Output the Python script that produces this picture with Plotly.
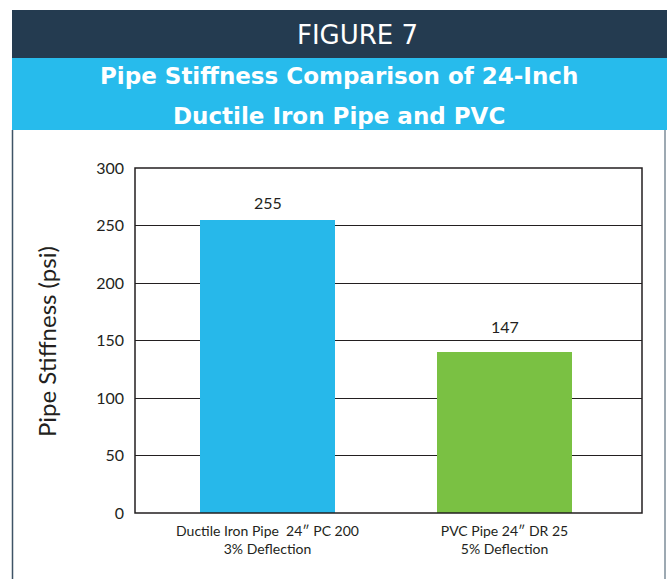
import plotly.graph_objects as go

categories = ["Ductile Iron Pipe  24\u2033 PC 200<br>3% Deflection", "PVC Pipe 24\u2033 DR 25<br>5% Deflection"]
bar_heights = [255, 140]
label_values = [255, 147]
bar_colors = ["#27B8EA", "#7AC143"]
y_ticks = [0, 50, 100, 150, 200, 250, 300]

OFF = 8  # page body margin
W, H = 667 - OFF, 579 - OFF
L, R, T, B = 135 - OFF, 642 - OFF, 168 - OFF, 513 - OFF


def px(x):
    return (x - OFF - L) / (R - L)


def py(y):
    return (B - (y - OFF)) / (B - T)


fig = go.Figure()
fig.add_trace(go.Bar(
    x=[0, 1], y=bar_heights, width=0.57,
    marker=dict(color=bar_colors, line=dict(width=0)),
    hoverinfo="skip",
))

for i, v in enumerate(label_values):
    fig.add_annotation(x=i, y=v, xref="x", yref="y", text=str(v), showarrow=False,
                       xanchor="center", yanchor="bottom", yshift=6,
                       font=dict(family="Lato, Noto Sans, sans-serif", size=16, color="#231F20"))

shapes = [
    dict(type="rect", xref="paper", yref="paper", x0=px(12), x1=px(680), y0=py(10), y1=py(58),
         fillcolor="#243B50", line=dict(width=0), layer="below"),
    dict(type="rect", xref="paper", yref="paper", x0=px(12), x1=px(680), y0=py(58), y1=py(130),
         fillcolor="#27BBEC", line=dict(width=0), layer="below"),
    dict(type="line", xref="paper", yref="paper", x0=px(12.5), x1=px(12.5), y0=py(130), y1=py(600),
         line=dict(color="#3E5366", width=1.5)),
    dict(type="line", xref="paper", yref="paper", x0=px(665), x1=px(665), y0=py(130), y1=py(600),
         line=dict(color="#7D8C99", width=1.5)),
    dict(type="rect", xref="paper", yref="paper", x0=0, x1=1, y0=0, y1=1,
         line=dict(color="#231F20", width=1.5), layer="above"),
]

annotations_extra = [
    dict(text="FIGURE 7", x=px(357), y=py(35), font=dict(family="DejaVu Sans, sans-serif", size=26, color="white")),
    dict(text="<b>Pipe Stiffness Comparison of 24-Inch</b>", x=px(339), y=py(76),
         font=dict(family="DejaVu Sans, sans-serif", size=23, color="white")),
    dict(text="<b>Ductile Iron Pipe and PVC</b>", x=px(339), y=py(116),
         font=dict(family="DejaVu Sans, sans-serif", size=23, color="white")),
    dict(text="Pipe Stiffness (psi)", x=px(46), y=py(342), textangle=-90,
         font=dict(family="Lato, Noto Sans, sans-serif", size=24, color="#231F20")),
]
for a in annotations_extra:
    fig.add_annotation(xref="paper", yref="paper", showarrow=False, xanchor="center", yanchor="middle", **a)

fig.update_layout(
    width=W, height=H,
    margin=dict(l=L, r=W - R, t=T, b=H - B, pad=0),
    paper_bgcolor="white", plot_bgcolor="white",
    showlegend=False,
    shapes=shapes,
    xaxis=dict(range=[-0.559, 1.580], tickvals=[0, 1], ticktext=categories, showgrid=False,
               zeroline=False, showline=False, ticks="", ticklabelstandoff=8,
               tickfont=dict(family="Lato, Noto Sans, sans-serif", size=14, color="#231F20")),
    yaxis=dict(range=[0, 300], tickvals=y_ticks, showgrid=True, gridcolor="#231F20", gridwidth=1,
               zeroline=False, showline=False, ticks="", ticklabelstandoff=10,
               tickfont=dict(family="Lato, Noto Sans, sans-serif", size=16, color="#231F20")),
    bargap=0,
)

fig.write_html("out.html", post_script="document.body.style.margin='0';document.body.style.padding='0';"
               "var d=document.getElementsByClassName('plotly-graph-div')[0];"
               "d.style.position='absolute';d.style.left='8px';d.style.top='8px';")
